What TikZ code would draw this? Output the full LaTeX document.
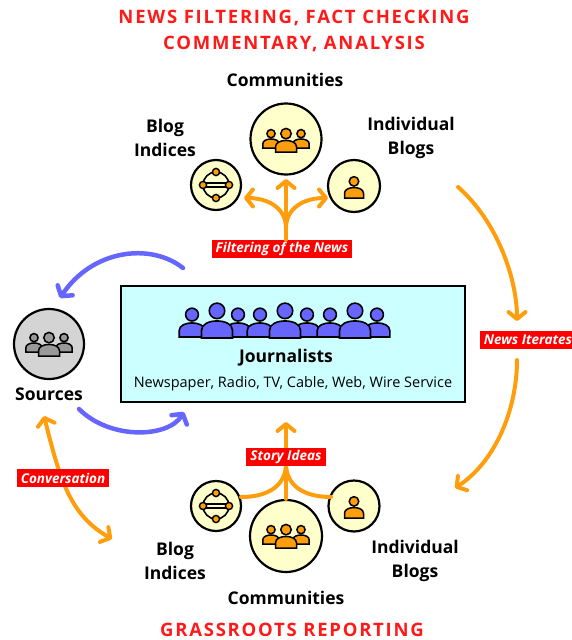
\documentclass[tikz,border=0pt]{standalone}
\usepackage{fontspec}
\setmainfont{Open Sans}
\usetikzlibrary{arrows.meta}
\definecolor{tred}{HTML}{FF1A1A}
\definecolor{lred}{HTML}{FF0000}
\definecolor{orng}{HTML}{FF9E0D}
\definecolor{lyel}{HTML}{FFFFCC}
\definecolor{cyanbox}{HTML}{CCFFFF}
\definecolor{blu}{HTML}{6666FF}
\definecolor{gry}{HTML}{D4D4D4}
\definecolor{gryp}{HTML}{999999}
\tikzset{
  person/.pic={
    \path[pic actions] (-10pt,0pt) -- (-10pt,5pt) .. controls (-10pt,13pt) and (10pt,13pt) .. (10pt,5pt) -- (10pt,0pt) -- cycle;
    \path[pic actions] (0pt,17.5pt) circle (5pt);
  },
  network/.pic={
    \draw[line width=1.6pt] (0pt,0pt) circle (13pt);
    \draw[line width=1.4pt] (-13pt,2pt) -- (13pt,2pt) (-13pt,-2pt) -- (13pt,-2pt);
    \foreach \p in {(0pt,13pt),(0pt,-13pt),(13pt,0pt),(-13pt,0pt)}
      \filldraw[fill=orng,draw=black,line width=1.4pt] \p circle (3.6pt);
  },
  icirc/.style={circle, draw=black, line width=2.2pt, fill=lyel, inner sep=0pt, minimum size=#1},
  lab/.style={font=\fontsize{17.5}{23.5}\selectfont\bfseries, align=center, inner sep=0pt},
  redlab/.style={fill=lred, text=white, font=\fontsize{13.5}{15}\selectfont\bfseries\itshape, inner xsep=4pt, inner ysep=1.5pt, minimum height=18pt},
  title/.style={text=tred, font=\fontsize{18.5}{20}\selectfont\bfseries\addfontfeature{LetterSpace=9.5}, inner sep=0pt},
  oarr/.style={draw=orng, line width=4pt, line cap=round, -{Straight Barb[length=7pt,width=17pt,round]}},
  obi/.style={draw=orng, line width=4pt, line cap=round, {Straight Barb[length=7pt,width=17pt,round]}-{Straight Barb[length=7pt,width=17pt,round]}},
  oline/.style={draw=orng, line width=4pt, line cap=round},
  barr/.style={draw=blu, line width=4.5pt, line cap=round, -{Straight Barb[length=7pt,width=18pt,round]}},
  opers/.style={fill=orng, draw=black, line width=1.5pt},
}
\begin{document}
\begin{tikzpicture}[x=1pt,y=-1pt]
\useasboundingbox (0,0) rectangle (572,640);

% titles
\node[title] (t1) at (294,18) {NEWS FILTERING, FACT CHECKING};
\node[title] (t2) at (294,44) {COMMENTARY, ANALYSIS};
\node[title] (t3) at (292,630) {GRASSROOTS REPORTING};

% ---------- top group ----------
\node[lab] (lcomT) at (285,80) {Communities};
\node[icirc=71pt] (comT) at (286,139) {};
\pic[opers, scale=0.82] at (271,148) {person};
\pic[opers, scale=0.82] at (301,148) {person};
\pic[opers, scale=1.05] at (286,152) {person};

\node[lab] (lbloT) at (165,138) {Blog\\Indices};
\node[icirc=50pt] (bloT) at (216,185) {};
\pic at (216,185) {network};

\node[lab] (lindT) at (411,138) {Individual\\Blogs};
\node[icirc=52pt] (indT) at (354,186) {};
\pic[opers, scale=0.95] at (354,198) {person};

\node[redlab] (filt) at (282,249) {Filtering of the News};
\coordinate (fsplit) at (286,228);
\draw[oline] (filt.north -| fsplit) -- (fsplit);
\draw[oarr] (fsplit) -- (comT.south |- 0,179);
\draw[oarr] (fsplit) .. controls (286,208) and (268,198) .. (244,198);
\draw[oarr] (fsplit) .. controls (286,208) and (304,198) .. (328,198);

% ---------- journalists box ----------
\node[draw=black, line width=2.2pt, fill=cyanbox, minimum width=344pt, minimum height=116pt, inner sep=0pt] (box) at (293,344) {};
\foreach \x in {192,238,260,307,330,377}
  \pic[fill=blu, draw=black, line width=1.6pt, scale=1.28] at (\x,337) {person};
\foreach \x in {217,285,355}
  \pic[fill=blu, draw=black, line width=1.6pt, scale=1.55] at (\x,338) {person};
\node[lab] (ljour) at (286,358) {Journalists};
\node[font=\fontsize{14.5}{16}\selectfont, inner sep=0pt] (lmedia) at (293,384) {Newspaper, Radio, TV, Cable, Web, Wire Service};

% ---------- sources ----------
\node[circle, draw=black, line width=2.2pt, fill=gry, minimum size=70pt, inner sep=0pt] (src) at (49,344) {};
\pic[fill=gryp, draw=black, line width=1.5pt, scale=0.82] at (34,352) {person};
\pic[fill=gryp, draw=black, line width=1.5pt, scale=0.82] at (64,352) {person};
\pic[fill=gryp, draw=black, line width=1.5pt, scale=1.05] at (49,356) {person};
\node[lab] (lsrc) at (49,394) {Sources};

\coordinate (btop1) at (183,268);
\coordinate (btop2) at (60,298);
\draw[barr] (btop1) .. controls (150,242) and (92,250) .. (btop2);
\coordinate (bbot1) at (79,409);
\coordinate (bbot2) at (184,412);
\draw[barr] (bbot1) .. controls (110,440) and (168,438) .. (bbot2);

% ---------- news iterates ----------
\node[redlab] (iter) at (528,340) {News Iterates};
\coordinate (i1) at (458,187);
\coordinate (i1e) at (517,321);
\coordinate (i2s) at (517,360);
\coordinate (i2) at (455,488);
\draw[oarr] (i1) .. controls (498,222) and (517,280) .. (i1e);
\draw[oarr] (i2s) .. controls (517,410) and (495,462) .. (i2);

% ---------- conversation ----------
\coordinate (c1) at (44,416);
\coordinate (c2) at (112,539);
\draw[obi] (c1) .. controls (60,480) and (70,515) .. (c2);
\node[redlab] (conv) at (63,478) {Conversation};

% ---------- bottom group ----------
\node[icirc=50pt] (bloB) at (216,506) {};
\pic at (216,506) {network};
\node[icirc=72pt] (comB) at (286,536) {};
\pic[opers, scale=0.82] at (271,544) {person};
\pic[opers, scale=0.82] at (301,544) {person};
\pic[opers, scale=1.05] at (286,548) {person};
\node[icirc=51pt] (indB) at (354,506) {};
\pic[opers, scale=0.95] at (354,518) {person};

\node[lab] (lbloB) at (175,561) {Blog\\Indices};
\node[lab] (lindB) at (415,561) {Individual\\Blogs};
\node[lab] (lcomB) at (286,598) {Communities};

\coordinate (sj) at (286,466);
\coordinate (bl) at (241,497);
\coordinate (br) at (331,497);
\draw[oarr] (comB.north) -- (286,422);
\draw[oline] (bl) .. controls (262,497) and (284,490) .. (sj);
\draw[oline] (br) .. controls (310,497) and (288,490) .. (sj);
\node[redlab] (story) at (286,457) {Story Ideas};
\end{tikzpicture}
\end{document}
